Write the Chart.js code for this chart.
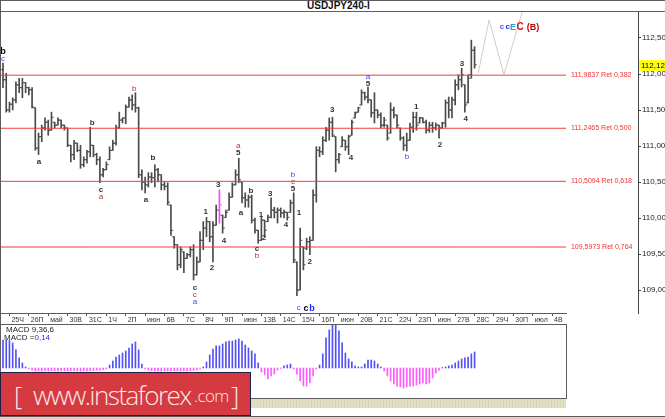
<!DOCTYPE html>
<html>
<head>
<meta charset="utf-8">
<script src="https://cdn.jsdelivr.net/npm/chart.js@4.4.0/dist/chart.umd.min.js"></script>
<style>
body { margin: 0; background: #fff; }
#wrap { position: relative; width: 665px; height: 417px; overflow: hidden; background: #fff; font-family: "Liberation Sans", Arial, sans-serif; }
.ln { position: absolute; background: #5c5c5c; z-index: 3; }
canvas { position: absolute; }
#title { position: absolute; left: 307px; top: 1px; font: bold 10px "Liberation Sans", Arial, sans-serif; color: #111; line-height: 10px; }
.mtxt { position: absolute; left: 4px; font-size: 8px; line-height: 8px; color: #222; z-index: 4; }
#strip { position: absolute; left: 0; top: 399px; width: 566px; height: 9px; background: repeating-linear-gradient(90deg, #e4e0c6 0 2px, #d9d4b4 2px 3px); }
#banner { position: absolute; left: 0; top: 372px; width: 249px; height: 42px; background: #d43a3f; border: 1px solid #1f1f45; z-index: 5; color: #fbe8e8; font-family: "Open Sans", sans-serif; font-weight: 300; white-space: nowrap; }
#banner span { position: absolute; }
</style>
</head>
<body>
<div id="wrap">
  <div class="ln" style="left:0;top:0;width:665px;height:1px"></div>
  <div class="ln" style="left:0;top:11px;width:665px;height:1px"></div>
  <div class="ln" style="left:0;top:0;width:1px;height:417px"></div>
  <div class="ln" style="left:0;top:416px;width:665px;height:1px"></div>
  <div class="ln" style="left:0;top:313px;width:567px;height:1px"></div>
  <div class="ln" style="left:0;top:324px;width:567px;height:1px"></div>
  <div class="ln" style="left:566px;top:324px;width:1px;height:75px"></div>
  <div class="ln" style="left:0;top:398px;width:567px;height:1px"></div>
  <div id="title">USDJPY240-I</div>
  <canvas id="main" width="665" height="313" style="left:0;top:11px"></canvas>
  <canvas id="macd" width="566" height="73" style="left:0;top:325px"></canvas>
  <div class="mtxt" style="top:326px;left:6px">MACD 9,36,6</div>
  <div class="mtxt" style="top:334px">MACD =<span style="color:#2b2bff">0,14</span></div>
  <div id="strip"></div>
  <div id="banner">
    <span style="left:13px;top:4px;font-size:26px">[</span>
    <span style="left:32px;top:4px;font-size:26px;letter-spacing:-1.5px">www.instaforex</span>
    <span style="left:193px;top:11px;font-size:17px;letter-spacing:-0.6px">.com</span>
    <span style="left:230px;top:4px;font-size:26px">]</span>
  </div>
</div>
<script>
// USDJPY H4 bars
const highs = [112.15, 112.01, 111.61, 111.67, 111.89, 111.94, 111.94, 111.88, 111.82, 111.81,
  111.53, 111.18, 111.29, 111.39, 111.36, 111.47, 111.33, 111.39, 111.36, 111.29,
  111.25, 111.01, 111.08, 111.04, 111.01, 110.85, 110.94, 111.26, 111.01, 110.90,
  110.85, 110.69, 110.78, 110.99, 111.08, 111.29, 111.47, 111.39, 111.57, 111.68,
  111.71, 111.74, 111.54, 110.67, 110.57, 110.63, 110.63, 110.74, 110.69, 110.60,
  110.50, 110.49, 110.18, 109.74, 109.63, 109.60, 109.53, 109.51, 109.60, 109.63,
  109.46, 109.81, 109.95, 110.01, 109.95, 109.95, 110.18, 110.39, 110.04, 110.11,
  110.35, 110.49, 110.67, 110.83, 110.50, 110.35, 110.32, 110.32, 110.00, 109.83,
  110.01, 109.97, 110.04, 110.28, 110.15, 110.14, 110.14, 110.11, 110.08, 110.25,
  110.35, 109.39, 109.86, 109.60, 109.72, 109.74, 110.39, 110.99, 110.99, 111.13,
  111.26, 111.39, 111.40, 111.13, 110.90, 111.13, 111.08, 111.15, 111.36, 111.47,
  111.54, 111.78, 111.75, 111.82, 111.64, 111.74, 111.50, 111.46, 111.40, 111.29,
  111.60, 111.54, 111.43, 111.25, 111.13, 111.18, 111.32, 111.47, 111.47, 111.40,
  111.39, 111.36, 111.33, 111.33, 111.32, 111.29, 111.33, 111.64, 111.68, 111.68,
  111.92, 111.99, 112.08, 111.85, 111.99, 112.47, 112.38];
const lows = [111.81, 111.47, 111.47, 111.50, 111.60, 111.74, 111.67, 111.74, 111.71, 111.53,
  110.94, 110.88, 111.06, 111.22, 111.15, 111.22, 111.25, 111.29, 111.25, 111.22,
  110.99, 110.78, 110.81, 110.92, 110.69, 110.71, 110.76, 110.85, 110.85, 110.74,
  110.49, 110.57, 110.67, 110.81, 110.94, 111.01, 111.25, 111.32, 111.31, 111.54,
  111.50, 111.47, 110.56, 110.39, 110.35, 110.43, 110.49, 110.43, 110.50, 110.39,
  110.39, 110.18, 109.76, 109.58, 109.28, 109.31, 109.24, 109.44, 109.46, 109.14,
  109.21, 109.39, 109.56, 109.74, 109.67, 109.39, 109.90, 109.93, 109.79, 110.01,
  110.11, 110.29, 110.46, 110.49, 110.21, 110.15, 110.15, 109.93, 109.79, 109.65,
  109.69, 109.74, 109.95, 110.00, 110.00, 109.93, 110.01, 110.00, 109.97, 110.08,
  109.38, 108.92, 109.00, 109.28, 109.56, 109.49, 109.69, 110.22, 110.85, 110.88,
  111.06, 111.08, 111.13, 110.64, 110.76, 110.99, 110.94, 110.88, 111.15, 111.39,
  111.47, 111.57, 111.64, 111.60, 111.40, 111.32, 111.39, 111.25, 111.26, 111.08,
  111.18, 111.39, 111.25, 111.08, 110.94, 110.93, 111.08, 111.19, 111.22, 111.32,
  111.32, 111.18, 111.19, 111.19, 111.22, 111.11, 111.25, 111.26, 111.39, 111.39,
  111.57, 111.78, 111.82, 111.47, 111.60, 111.94, 112.08];
const opens = [112.06, 111.92, 111.50, 111.58, 111.64, 111.85, 111.81, 111.88, 111.81, 111.78,
  111.53, 110.97, 111.13, 111.25, 111.33, 111.22, 111.33, 111.29, 111.36, 111.29,
  111.25, 111.01, 110.88, 111.04, 110.94, 110.74, 110.81, 110.92, 111.01, 110.88,
  110.81, 110.60, 110.67, 110.81, 110.94, 111.04, 111.25, 111.36, 111.39, 111.54,
  111.64, 111.57, 111.53, 110.60, 110.50, 110.46, 110.57, 110.56, 110.67, 110.60,
  110.46, 110.44, 110.18, 109.74, 109.63, 109.35, 109.53, 109.44, 109.49, 109.56,
  109.21, 109.39, 109.69, 109.86, 109.95, 109.74, 109.90, 110.11, 110.04, 110.01,
  110.11, 110.29, 110.46, 110.60, 110.50, 110.28, 110.25, 110.29, 109.97, 109.83,
  109.69, 109.97, 109.95, 110.01, 110.11, 110.08, 110.11, 110.07, 110.08, 110.08,
  110.21, 109.39, 109.00, 109.60, 109.58, 109.67, 109.69, 110.32, 110.94, 110.92,
  111.08, 111.22, 111.33, 111.13, 110.81, 110.99, 111.08, 110.99, 111.15, 111.39,
  111.47, 111.57, 111.74, 111.68, 111.64, 111.46, 111.50, 111.43, 111.29, 111.29,
  111.18, 111.50, 111.43, 111.25, 111.11, 111.01, 111.08, 111.26, 111.40, 111.32,
  111.39, 111.33, 111.22, 111.29, 111.25, 111.29, 111.25, 111.32, 111.60, 111.50,
  111.64, 111.85, 111.92, 111.85, 111.60, 111.99, 112.33];
const closes = [111.92, 111.50, 111.58, 111.64, 111.85, 111.81, 111.88, 111.81, 111.78, 111.54,
  110.97, 111.13, 111.25, 111.33, 111.22, 111.40, 111.29, 111.36, 111.29, 111.25,
  111.01, 110.88, 111.04, 110.94, 110.74, 110.81, 110.92, 111.01, 110.88, 110.81,
  110.60, 110.67, 110.74, 110.94, 111.04, 111.25, 111.36, 111.39, 111.54, 111.64,
  111.57, 111.53, 110.60, 110.50, 110.46, 110.57, 110.56, 110.67, 110.60, 110.46,
  110.44, 110.22, 109.83, 109.63, 109.35, 109.56, 109.44, 109.49, 109.56, 109.21,
  109.39, 109.69, 109.86, 109.95, 109.74, 109.90, 110.11, 110.18, 109.86, 110.08,
  110.29, 110.46, 110.60, 110.53, 110.28, 110.25, 110.29, 109.97, 109.83, 109.69,
  109.97, 109.83, 110.01, 110.11, 110.08, 110.11, 110.07, 110.08, 110.01, 110.21,
  109.42, 109.00, 109.69, 109.35, 109.67, 109.69, 110.32, 110.94, 110.92, 111.08,
  111.22, 111.33, 111.15, 110.81, 110.88, 111.08, 110.99, 111.13, 111.33, 111.46,
  111.53, 111.74, 111.68, 111.64, 111.46, 111.50, 111.43, 111.29, 111.36, 111.11,
  111.50, 111.43, 111.29, 111.11, 111.01, 111.08, 111.26, 111.40, 111.29, 111.39,
  111.33, 111.22, 111.29, 111.25, 111.29, 111.25, 111.32, 111.60, 111.50, 111.64,
  111.85, 111.92, 111.99, 111.57, 111.94, 112.33, 112.128];
const lastPrice = 112.128;

// MACD 9,36,6 histogram
const macd = [0.245, 0.245, 0.241, 0.219, 0.158, 0.088, 0.044, 0.009,
  -0.009, -0.018, -0.026, -0.026, -0.028, -0.026, -0.026, -0.024, -0.026, -0.028,
  -0.026, -0.026, -0.026, -0.024, -0.026, -0.026, -0.028, -0.026, -0.026, -0.024,
  -0.022, -0.020, -0.018, -0.014, -0.009,
  0.026, 0.061, 0.096, 0.114, 0.131, 0.149, 0.175, 0.210, 0.228, 0.158, 0.035,
  -0.009, -0.018, -0.024, -0.026, -0.026, -0.028, -0.026, -0.026, -0.024,
  -0.026, -0.026, -0.028, -0.026, -0.026, -0.024, -0.022, -0.018, -0.009,
  0.009, 0.053, 0.114, 0.166, 0.193, 0.193, 0.210, 0.228, 0.236, 0.236,
  0.245, 0.254, 0.236, 0.201, 0.175, 0.149, 0.123, 0.044,
  -0.035, -0.061, -0.096, -0.070, -0.053, -0.018, -0.004, 0.018, 0.026, 0.035,
  -0.009, -0.053, -0.114, -0.158, -0.158, -0.131, -0.070, -0.009, 0.026, 0.123,
  0.263, 0.333, 0.376, 0.376, 0.324, 0.219, 0.131, 0.079, 0.053, 0.018,
  0.009, 0.009, 0.035, 0.070, 0.070, 0.061, 0.035, 0.009, -0.026, -0.070,
  -0.114, -0.140, -0.158, -0.166, -0.175, -0.166, -0.158, -0.158, -0.149, -0.140,
  -0.131, -0.140, -0.131, -0.088, -0.044, -0.018, 0.004, 0.009, 0.018, 0.026,
  0.044, 0.061, 0.079, 0.088, 0.096, 0.123, 0.140];

const dayLabels = ['25Ч', '26П', 'май', '30В', '31С', '1Ч', '2П', 'июн', '6В', '7С', '8Ч', '9П', 'июн', '13В',
  '14С', '15Ч', '16П', 'июн', '20В', '21С', '22Ч', '23П', 'июн', '27В', '28С', '29Ч', '30П', 'июл', '4В'];
const priceTicks = [109.0, 109.5, 110.0, 110.5, 111.0, 111.5, 112.0, 112.5];

const fibLevels = [111.9837, 111.2465, 110.5094, 109.5973];
const fibRatios = [0.382, 0.500, 0.618, 0.764];

// expected path drawn after the last bar
const projX = [147.1, 150.5, 155.1, 161.5];
const projY = [112.01, 112.75, 111.99, 112.98];

// wave marks: bar position, price, text, colour kind
const waveX = [0, 0, 11.1, 27.6, 30.3, 30.3, 40.6, 46.4, 44.3, 72.8,
  72.8, 66.6, 62.8, 64.7, 68.4, 59.4, 59.4, 59.4, 73.7, 76.8,
  79.9, 80.8, 78.6, 78.6, 82.7, 87.6, 89.8, 89.8, 89.8, 91.6,
  95.0, 91.6, 93.8, 95.7, 101.9, 107.7, 113.0, 113.0, 127.9, 125.1,
  135.3, 142.1, 143.3];
const waveY = [112.31, 112.21, 110.78, 111.32, 110.39, 110.29, 111.79, 110.83, 110.26, 111.00,
  110.90, 110.46, 110.08, 109.31, 109.69, 109.03, 108.93, 108.83, 110.07, 110.38,
  110.04, 109.72, 109.57, 109.47, 110.33, 109.90, 110.60, 110.50, 110.40, 110.07,
  109.39, 108.75, 108.75, 108.75, 111.50, 110.83, 111.96, 111.86, 111.54, 110.85,
  111.01, 112.14, 111.375];
const waveText = ['b', 'c', 'a', 'b', 'c', 'a', 'b', 'b', 'a', 'a',
  '5', '3', '1', '2', '4', 'c', 'c', 'a', 'a', 'b',
  '1', '2', 'c', 'b', '3', '4', 'b', 'c', '5', '1',
  '2', 'c', 'c', 'b', '3', '4', 'a', '5', '1', 'b',
  '2', '3', '4'];
const waveKind = ['K', 'b', 'k', 'k', 'k', 'r', 'r', 'k', 'k', 'r',
  'k', 'k', 'k', 'k', 'k', 'k', 'r', 'b', 'k', 'k',
  'k', 'k', 'k', 'r', 'k', 'k', 'b', 'r', 'k', 'k',
  'k', 'b', 'K', 'B', 'k', 'k', 'b', 'k', 'k', 'b',
  'k', 'k', 'k'];
const targetX = [154.5, 156.3, 157.9, 160.1, 164.1];
const targetY = [112.65, 112.65, 112.65, 112.65, 112.65];
const targetText = ['c', 'c', 'E', 'C', '(B)'];
const targetKind = ['t1', 't2', 't3', 't4', 't5'];

const pinkBar = 67;
const firstDayBar = 2, barsPerDay = 6;
const fibEnd = 174.3;

const kindStyle = {
  k: ['bold 8px "Liberation Sans"', '#333'],
  K: ['bold 9px "Liberation Sans"', '#000'],
  b: ['8px "Liberation Sans"', '#3f3fff'],
  B: ['bold 9px "Liberation Sans"', '#2424ff'],
  r: ['8px "Liberation Sans"', '#b2352a'],
  t1: ['bold 8px "Liberation Sans"', '#5555ff'],
  t2: ['bold 8px "Liberation Sans"', '#2a2acc'],
  t3: ['bold 9px "Liberation Sans"', '#2a9ee0'],
  t4: ['bold 10px "Liberation Sans"', '#e01010'],
  t5: ['bold 9px "Liberation Sans"', '#c40000']
};

const fmt = (v, d) => v.toFixed(d).replace('.', ',');

Chart.defaults.font.family = '"Liberation Sans", Arial, sans-serif';
Chart.defaults.color = '#222';

const barColor = c => c.dataIndex === pinkBar ? '#ff44ff' : '#4a4a4a';
const noPad = s => { s.paddingLeft = 0; s.paddingRight = 0; s.paddingTop = 0; s.paddingBottom = 0; };

const annotPlugin = {
  id: 'annot',
  afterDraw(chart) {
    const ctx = chart.ctx;
    const xs = chart.scales.x, ys = chart.scales.y;
    ctx.save();
    ctx.textBaseline = 'middle';

    ctx.font = '7px "Liberation Sans"';
    ctx.fillStyle = '#f23030';
    ctx.textAlign = 'left';
    fibLevels.forEach((lv, k) => {
      ctx.fillText(fmt(lv, 4) + ' Ret ' + fmt(fibRatios[k], 3), xs.getPixelForValue(fibEnd) + 5, ys.getPixelForValue(lv));
    });

    ctx.textAlign = 'center';
    waveText.forEach((t, k) => {
      const st = kindStyle[waveKind[k]];
      ctx.font = st[0];
      ctx.fillStyle = st[1];
      ctx.fillText(t, xs.getPixelForValue(waveX[k]), ys.getPixelForValue(waveY[k]));
    });
    targetText.forEach((t, k) => {
      const st = kindStyle[targetKind[k]];
      ctx.font = st[0];
      ctx.fillStyle = st[1];
      ctx.fillText(t, xs.getPixelForValue(targetX[k]), ys.getPixelForValue(targetY[k]));
    });

    // current price box on the axis
    const py = Math.round(ys.getPixelForValue(lastPrice));
    const ax = chart.chartArea.right + 1;
    ctx.fillStyle = '#ffff1a';
    ctx.fillRect(ax, py - 5, chart.width - ax, 11);
    ctx.fillStyle = '#000';
    ctx.textAlign = 'left';
    ctx.font = '8px "Liberation Sans"';
    ctx.fillText(fmt(lastPrice, 3), ax + 2, py + 0.5);
    ctx.restore();
  }
};

new Chart(document.getElementById('main'), {
  type: 'bar',
  data: {
    datasets: [
      {
        type: 'line',
        data: projX.map((x, i) => ({x: x, y: projY[i]})),
        borderColor: '#cdcdcd', borderWidth: 1, pointRadius: 0, tension: 0
      },
      ...fibLevels.map(lv => ({
        type: 'line',
        data: [{x: -1, y: lv}, {x: fibEnd, y: lv}],
        borderColor: '#f03c3c', borderWidth: 1, pointRadius: 0
      })),
      {
        type: 'bar',
        data: highs.map((h, i) => ({x: i, y: [lows[i], h]})),
        backgroundColor: barColor, borderWidth: 0, borderSkipped: false,
        barThickness: 1
      },
      {
        type: 'line', showLine: false,
        data: opens.map((o, i) => ({x: i - 0.32, y: o})),
        pointStyle: 'line', pointRadius: 1.2, pointHoverRadius: 0, pointBorderWidth: 1, pointBorderColor: barColor
      },
      {
        type: 'line', showLine: false,
        data: closes.map((c, i) => ({x: i + 0.32, y: c})),
        pointStyle: 'line', pointRadius: 1.2, pointHoverRadius: 0, pointBorderWidth: 1, pointBorderColor: barColor
      }
    ]
  },
  options: {
    responsive: false,
    animation: false,
    devicePixelRatio: 1,
    events: [],
    layout: { autoPadding: false, padding: { left: 1, top: 1, right: 0, bottom: 0 } },
    plugins: { legend: { display: false }, tooltip: { enabled: false } },
    scales: {
      x: {
        type: 'linear', min: -0.62, max: 196.6, offset: false,
        grid: { display: true, offset: false, drawOnChartArea: false, tickLength: 3, color: '#555' },
        border: { display: false },
        afterBuildTicks: s => { s.ticks = dayLabels.map((d, k) => ({value: firstDayBar + k * barsPerDay})); },
        afterFit: s => { s.height = 11; noPad(s); },
        ticks: {
          autoSkip: false, maxRotation: 0, align: 'start', padding: 0,
          font: { size: 7 }, color: '#333',
          callback: (v, idx) => ' ' + dayLabels[idx]
        }
      },
      y: {
        position: 'right', min: 108.681, max: 112.861,
        grid: { display: true, drawOnChartArea: false, tickLength: 3, color: '#444' },
        border: { display: true, color: '#444' },
        afterBuildTicks: s => { s.ticks = priceTicks.map(v => ({value: v})); },
        afterFit: s => { s.width = 27; noPad(s); },
        ticks: { padding: 1, font: { size: 8 }, color: '#222', callback: v => fmt(v, 3) }
      }
    }
  },
  plugins: [annotPlugin]
});

new Chart(document.getElementById('macd'), {
  type: 'bar',
  data: {
    datasets: [{
      data: macd.map((m, i) => ({x: i, y: m})),
      backgroundColor: c => c.raw && c.raw.y < 0 ? '#ff5cff' : '#5252f2',
      borderWidth: 0, barThickness: 1
    }]
  },
  options: {
    responsive: false,
    animation: false,
    devicePixelRatio: 1,
    events: [],
    layout: { autoPadding: false, padding: 0 },
    plugins: { legend: { display: false }, tooltip: { enabled: false } },
    scales: {
      x: { type: 'linear', display: false, min: -0.93, max: 174.3, offset: false, grid: { offset: false } },
      y: { display: false, min: -0.2625, max: 0.376 }
    }
  }
});
</script>
</body>
</html>
